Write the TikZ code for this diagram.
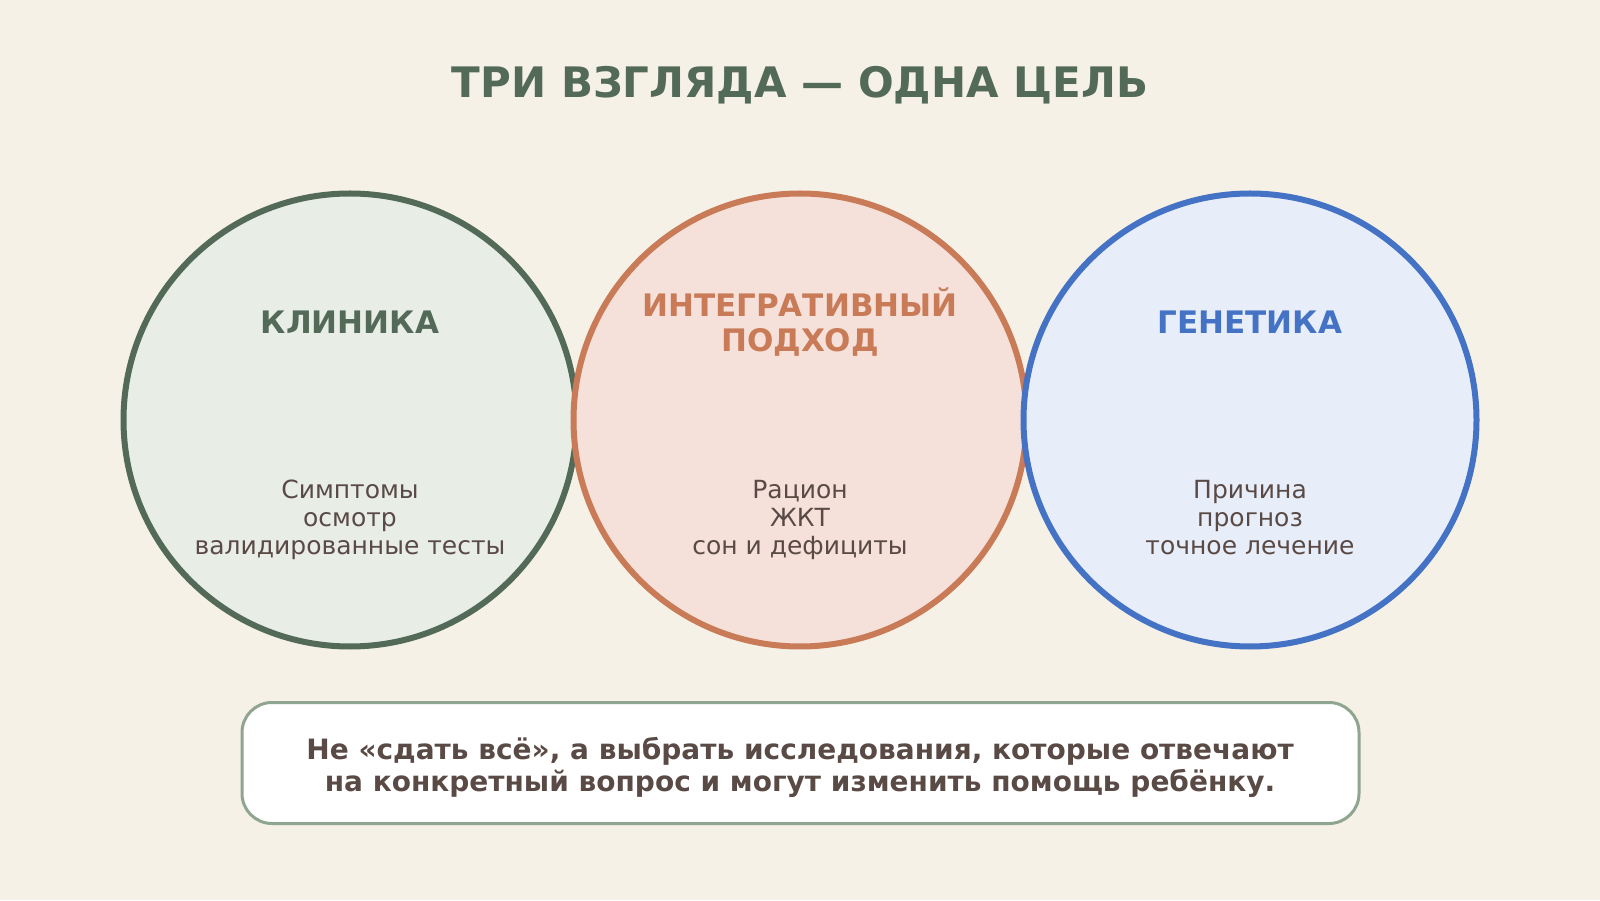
\documentclass[tikz,border=0pt]{standalone}
\usepackage{fontspec}
\setmainfont{DejaVu Sans}

\definecolor{bgcream}{HTML}{F5F1E7}
\definecolor{clingreen}{HTML}{526A57}
\definecolor{clinfill}{HTML}{E8EEE6}
\definecolor{intorange}{HTML}{C97A57}
\definecolor{intfill}{HTML}{F5E1DA}
\definecolor{genblue}{HTML}{4472C4}
\definecolor{genfill}{HTML}{E8EEF9}
\definecolor{textbrown}{HTML}{5A4A45}
\definecolor{boxgreen}{HTML}{8FA58F}

\tikzset{
	view/.style={circle, line width=6pt, minimum size=453pt, inner sep=0pt},
	viewtitle/.style={font=\fontsize{31}{35}\selectfont\bfseries, align=center},
	viewitems/.style={font=\fontsize{25}{28}\selectfont, align=center, text=textbrown},
}

\begin{document}
\begin{tikzpicture}[x=1pt, y=1pt]
		%canvas
		\fill[bgcream] (0,0) rectangle (1600,900);
		\useasboundingbox (0,0) rectangle (1600,900);
		
		\node[font=\fontsize{42}{46}\selectfont\bfseries, text=clingreen] (title) at (800, 815){ТРИ ВЗГЛЯДА — ОДНА ЦЕЛЬ};
		
		%three views
		\node[view, draw=clingreen, fill=clinfill] (clinic) at (350, 480){};
		\node[view, draw=intorange, fill=intfill] (integr) at (800, 480){};
		\node[view, draw=genblue, fill=genfill] (genet) at (1250, 480){};
		
		\node[viewtitle, text=clingreen] (clinichead) at (350, 577.5){КЛИНИКА};
		\node[viewtitle, text=intorange] (integrhead) at (800, 577.5){ИНТЕГРАТИВНЫЙ\\ПОДХОД};
		\node[viewtitle, text=genblue] (genethead) at (1250, 577.5){ГЕНЕТИКА};
		
		\node[viewitems] (clinicitems) at (350, 380){Симптомы\\осмотр\\валидированные тесты};
		\node[viewitems] (integritems) at (800, 380){Рацион\\ЖКТ\\сон и дефициты};
		\node[viewitems] (genetitems) at (1250, 382.5){Причина\\прогноз\\точное лечение};
		
		%takeaway
		\node[draw=boxgreen, line width=3pt, fill=white, rounded corners=30pt,
			minimum width=1117pt, minimum height=121pt] (note) at (800.5, 137){};
		\node[font=\fontsize{28}{32.5}\selectfont\bfseries, text=textbrown, align=center] (notetext) at (800, 132.5){Не «сдать всё», а выбрать исследования, которые отвечают\\на конкретный вопрос и могут изменить помощь ребёнку.};
\end{tikzpicture}
\end{document}
